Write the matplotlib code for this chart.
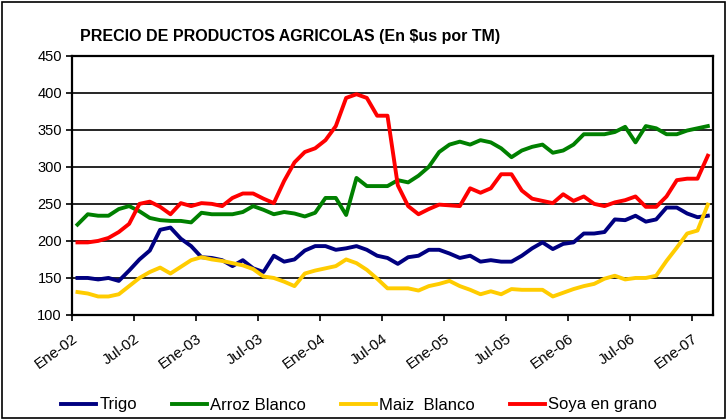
import numpy as np
import matplotlib
matplotlib.use("Agg")
import matplotlib.pyplot as plt
from matplotlib.patches import Rectangle

plt.rcParams['font.family'] = ['Liberation Sans', 'DejaVu Sans']

# monthly prices, Ene-02 .. Feb-07 (US$ per TM)
trigo = [150, 150, 148, 150, 146, 160, 175, 187, 215, 218, 203, 193,
         178, 177, 174, 166, 174, 163, 158, 180, 172, 175, 187, 193,
         193, 188, 190, 193, 188, 180, 177, 169, 178, 180, 188, 188,
         183, 177, 180, 172, 174, 172, 172, 180, 190, 198, 189, 196,
         198, 210, 210, 212, 229, 228, 234, 226, 229, 245, 245, 237,
         232, 234]
arroz = [222, 236, 234, 234, 243, 247, 240, 231, 228, 227, 227, 225,
         238, 236, 236, 236, 239, 247, 242, 236, 239, 237, 233, 238,
         258, 258, 235, 285, 274, 274, 274, 282, 279, 288, 300, 320,
         330, 334, 330, 336, 333, 325, 313, 322, 327, 330, 319, 322,
         330, 344, 344, 344, 347, 354, 333, 355, 352, 344, 344, 349,
         352, 355]
maiz = [131, 129, 125, 125, 128, 139, 150, 158, 164, 156, 165, 174,
        178, 175, 173, 170, 167, 162, 152, 150, 145, 139, 156, 160,
        163, 166, 175, 170, 161, 149, 136, 136, 136, 133, 139, 142,
        146, 139, 134, 128, 132, 128, 135, 134, 134, 134, 125, 130,
        135, 139, 142, 149, 153, 148, 150, 150, 153, 173, 191, 210,
        214, 249]
soya = [198, 198, 200, 204, 212, 223, 250, 253, 246, 236, 251, 247,
        251, 250, 247, 258, 264, 264, 257, 251, 281, 306, 320, 325,
        336, 355, 393, 398, 393, 369, 369, 275, 247, 236, 243, 249,
        248, 247, 271, 265, 271, 290, 290, 268, 257, 254, 251, 263,
        254, 260, 250, 247, 252, 255, 260, 246, 246, 260, 282, 284,
        284, 315]

series_names = ['Trigo', 'Arroz Blanco', 'Maiz  Blanco', 'Soya en grano']
colors = ['#000080', '#008000', '#FFCC00', '#FF0000']
tick_labels = ['Ene-02', 'Jul-02', 'Ene-03', 'Jul-03', 'Ene-04', 'Jul-04',
               'Ene-05', 'Jul-05', 'Ene-06', 'Jul-06', 'Ene-07']
yticks = [100, 150, 200, 250, 300, 350, 400, 450]

fig = plt.figure(figsize=(7.27, 4.2), dpi=100)
ax = fig.add_axes([72.3/727, 1-315/420, (713-72.3)/727, (315-55.7)/420])

x = np.arange(len(trigo))
for vals, name, c in zip([trigo, arroz, maiz, soya], series_names, colors):
    ax.plot(x, vals, color=c, lw=2.8, label=name, solid_joinstyle='round')

ax.set_xlim(-0.5, len(trigo) - 0.5)
ax.set_ylim(100, 450)
ax.set_yticks(yticks)
ax.set_yticklabels([str(v) for v in yticks], fontsize=10.5)
ax.set_xticks(np.arange(len(tick_labels)) * 6 - 0.5)
ax.set_xticklabels(tick_labels, fontsize=11, rotation=36,
                   ha='right', va='top', rotation_mode='anchor')
ax.yaxis.grid(True, color='black', lw=1.2)
ax.set_axisbelow(True)
ax.tick_params(axis='both', direction='out', length=4, width=1.2, colors='black')
ax.tick_params(axis='x', pad=8)
for s in ax.spines.values():
    s.set_color('black')
    s.set_linewidth(1.6)

fig.text(80/727, 1-37/420, 'PRECIO DE PRODUCTOS AGRICOLAS (En \\$us por TM)',
         fontsize=11.5, fontweight='bold', va='center', ha='left')

fig.legend(loc='center', bbox_to_anchor=(0.494, 1-405/420), ncol=4, frameon=False,
           fontsize=12, handlelength=2.1, handletextpad=0.2, columnspacing=2.1)

fig.patches.append(Rectangle((0.003, 0.004), 0.994, 0.992, transform=fig.transFigure,
                             fill=False, edgecolor='black', lw=1.2))

fig.savefig('out.png', dpi=100)
